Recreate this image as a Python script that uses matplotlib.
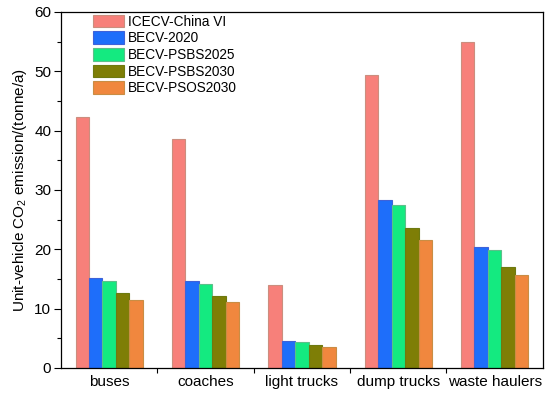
import numpy as np
import matplotlib
matplotlib.use('Agg')
import matplotlib.pyplot as plt
from matplotlib.ticker import MultipleLocator, FixedLocator

plt.rcParams['font.family'] = ['Liberation Sans', 'DejaVu Sans']
plt.rcParams['mathtext.default'] = 'regular'

# data
categories = ['buses', 'coaches', 'light trucks', 'dump trucks', 'waste haulers']
series = ['ICECV-China VI', 'BECV-2020', 'BECV-PSBS2025', 'BECV-PSBS2030', 'BECV-PSOS2030']
icecv = [42.3, 38.5, 14.0, 49.4, 55.0]
becv_2020 = [15.1, 14.6, 4.5, 28.3, 20.4]
psbs_2025 = [14.7, 14.2, 4.4, 27.4, 19.8]
psbs_2030 = [12.6, 12.2, 3.8, 23.6, 17.0]
psos_2030 = [11.5, 11.1, 3.5, 21.6, 15.6]
values = [icecv, becv_2020, psbs_2025, psbs_2030, psos_2030]

colors = ['#F7807A', '#1E6EFA', '#14EA80', '#7E7E06', '#F0873E']
edges = ['#CB8E7E', '#3F62D8', '#5CC08A', '#6D7A10', '#C98D44']

fig = plt.figure(figsize=(5.5, 3.94), dpi=100)
ax = fig.add_axes([0.111, 0.066, 0.876, 0.904])

x = np.arange(len(categories))
w = 0.14
for i, (vals, c, ec) in enumerate(zip(values, colors, edges)):
    ax.bar(x + (i - 2) * w, vals, width=w, color=c, edgecolor=ec,
           linewidth=0.8, label=series[i])

ax.set_xlim(-0.5, 4.5)
ax.set_ylim(0, 60)
ax.set_xticks(x)
ax.set_xticklabels(categories, fontsize=11)
ax.tick_params(axis='x', which='major', length=0, pad=5)
ax.xaxis.set_minor_locator(FixedLocator([0.5, 1.5, 2.5, 3.5]))
ax.tick_params(axis='x', which='minor', length=3.5, direction='out', width=0.8)

ax.yaxis.set_major_locator(MultipleLocator(10))
ax.yaxis.set_minor_locator(MultipleLocator(5))
ax.tick_params(axis='y', which='major', length=5, direction='out', width=0.8,
               labelsize=11, pad=2)
ax.tick_params(axis='y', which='minor', length=3, direction='out', width=0.8)
ax.set_ylabel('Unit-vehicle CO$_2$ emission/(tonne/a)', fontsize=11, labelpad=4)

for s in ax.spines.values():
    s.set_linewidth(0.9)

ax.legend(loc='upper left', bbox_to_anchor=(0.06, 1.0), frameon=False,
          fontsize=9.8, handlelength=2.3, handleheight=1.05, labelspacing=0.2,
          handletextpad=0.3, borderaxespad=0, borderpad=0.2)

fig.savefig('out.png', dpi=100)
